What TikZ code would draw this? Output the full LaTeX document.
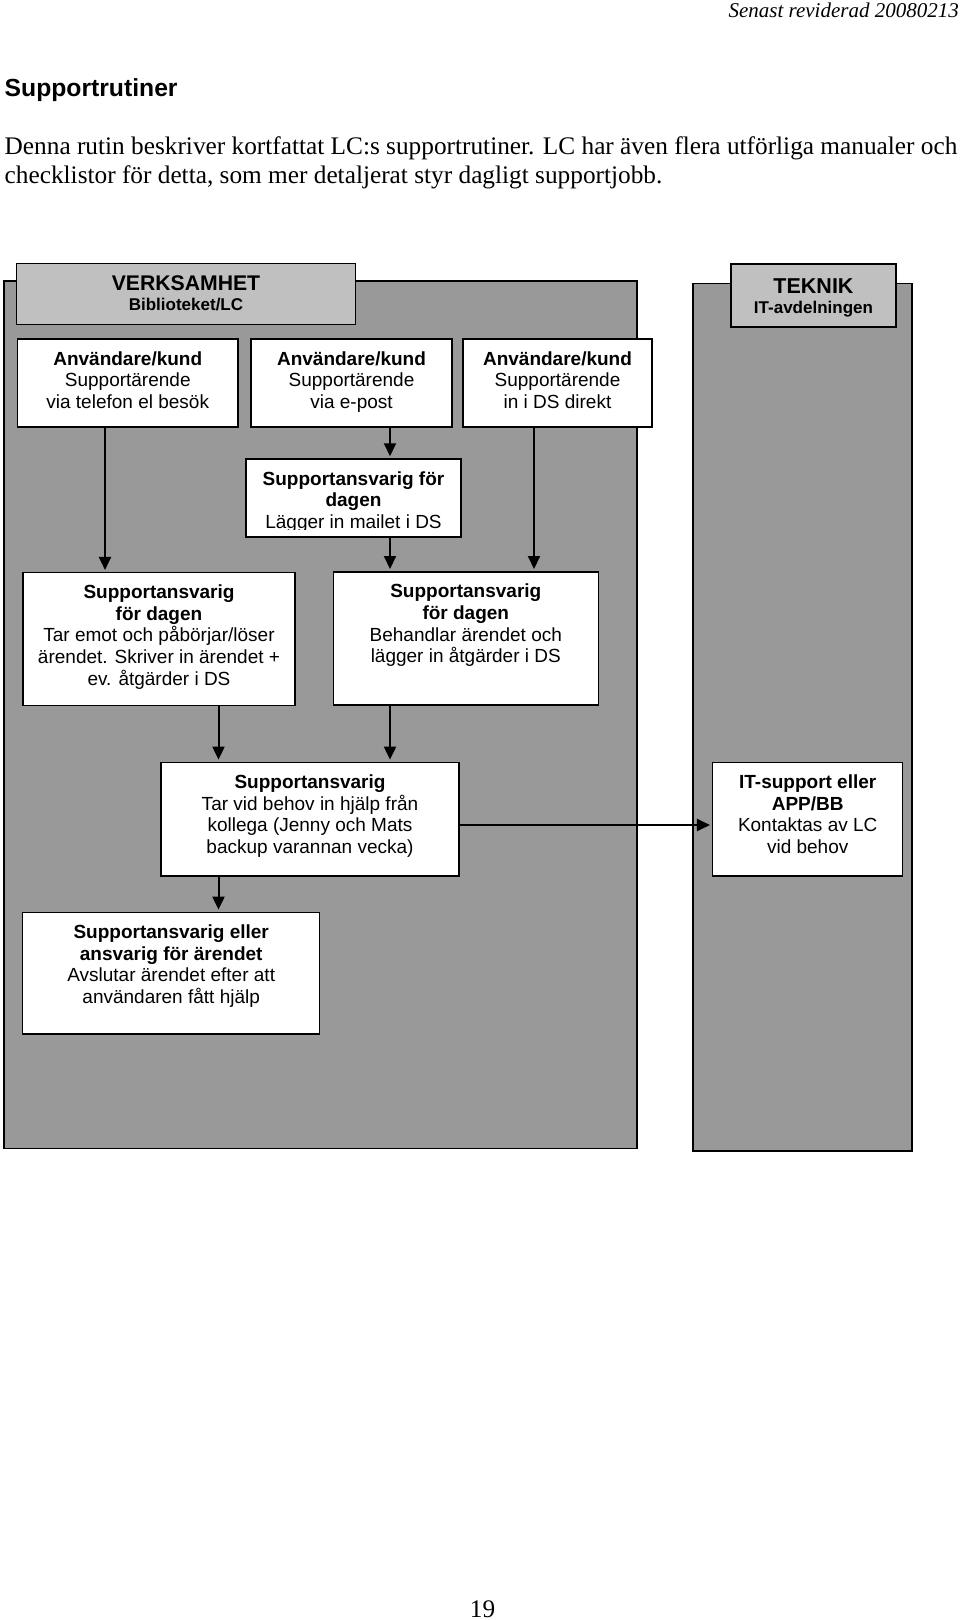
\documentclass[tikz,border=0pt]{standalone}
\usepackage{fontspec}
\setmainfont{Liberation Serif}
\setsansfont{Liberation Sans}
\usetikzlibrary{arrows.meta}
\definecolor{panelgray}{HTML}{999999}
\definecolor{hdrgray}{HTML}{C0C0C0}
% width, height, first baseline, text
\newcommand{\boxtxt}[4]{\parbox[c][#2][t]{#1}{\centering\rule{0pt}{#3}#4}}
\begin{document}
\begin{tikzpicture}[x=1pt,y=-1pt,
	panel/.style={draw=black,line width=1.5pt,fill=panelgray},
	hdr/.style={draw,line width=1.5pt,fill=hdrgray,inner sep=0pt,font=\sffamily\bfseries\fontsize{17}{19.4}\selectfont},
	box/.style={draw,line width=1.5pt,fill=white,inner sep=0pt,font=\sffamily\fontsize{19}{21.7}\selectfont},
	arr/.style={line width=2pt,shorten >=2pt,-{Triangle[length=13pt,width=12pt]}}]
	\useasboundingbox (0,0) rectangle (960,1620);
	\node[anchor=base east,inner sep=0pt,font=\itshape\fontsize{21}{21}\selectfont] (rev) at (959,17) {Senast reviderad 20080213};
	\node[anchor=base west,inner sep=0pt,font=\sffamily\bfseries\fontsize{24.7}{24.7}\selectfont] (title) at (4.5,96.5) {Supportrutiner};
	\node[anchor=base west,inner sep=0pt,font=\fontsize{25.3}{29}\selectfont] (intro1) at (4.5,154.5) {Denna rutin beskriver kortfattat LC:s supportrutiner. LC har även flera utförliga manualer och};
	\node[anchor=base west,inner sep=0pt,font=\fontsize{25.3}{29}\selectfont] (intro2) at (4.5,183.5) {checklistor för detta, som mer detaljerat styr dagligt supportjobb.};
	% the two panels
	\draw[panel] (4,281) rectangle (637,1148.5);
	\draw[panel] (693,283.5) rectangle (912,1151);
	\node[hdr] (verk) at (186,294) {\boxtxt{339pt}{61pt}{27.2pt}{{\fontsize{21.2}{21.2}\selectfont VERKSAMHET}\\Biblioteket/LC}};
	\node[hdr] (tek) at (813.5,295.5) {\boxtxt{165pt}{63pt}{29pt}{{\fontsize{21.5}{21.5}\selectfont TEKNIK}\\[0.6pt]IT-avdelningen}};
	% users
	\node[box] (tel) at (127.75,383) {\boxtxt{220.5pt}{88pt}{26pt}{\textbf{Användare/kund}\\Supportärende\\via telefon el besök}};
	\node[box] (epost) at (351.5,383) {\boxtxt{201pt}{88pt}{26pt}{\textbf{Användare/kund}\\Supportärende\\via e-post}};
	\node[box] (ds) at (557.5,383) {\boxtxt{189pt}{88pt}{26pt}{\textbf{Användare/kund}\\Supportärende\\in i DS direkt}};
	% mail box, text cut at the bottom
	\draw[line width=1.5pt,fill=white] (246,459) rectangle (461,537);
	\begin{scope}
		\clip (246,459) rectangle (461,529.5);
		\node[box,draw=none,fill=none] (mail) at (353.5,498) {\boxtxt{215pt}{78pt}{26pt}{\textbf{Supportansvarig för dagen}\\Lägger in mailet i DS}};
	\end{scope}
	\node[box] (tar) at (159,639.2) {\boxtxt{272pt}{133pt}{25.8pt}{\textbf{Supportansvarig}\\\textbf{för dagen}\\Tar emot och påbörjar/löser\\ärendet. Skriver in ärendet +\\ev. åtgärder i DS}};
	\node[box] (beh) at (465.8,638.4) {\boxtxt{265pt}{133.3pt}{26pt}{\textbf{Supportansvarig}\\\textbf{för dagen}\\Behandlar ärendet och\\lägger in åtgärder i DS}};
	\node[box] (hjalp) at (310,819.2) {\boxtxt{298pt}{113.7pt}{26pt}{\textbf{Supportansvarig}\\Tar vid behov in hjälp från\\kollega (Jenny och Mats\\backup varannan vecka)}};
	\node[box] (it) at (807.7,819.2) {\boxtxt{190pt}{113.7pt}{26pt}{\textbf{IT-support eller}\\\textbf{APP/BB}\\Kontaktas av LC\\vid behov}};
	\node[box] (slut) at (171.2,973.2) {\boxtxt{297pt}{121.7pt}{26pt}{\textbf{Supportansvarig eller}\\\textbf{ansvarig för ärendet}\\Avslutar ärendet efter att\\användaren fått hjälp}};
	% arrow columns
	\coordinate (c1) at (105,0);
	\coordinate (c2) at (390,0);
	\coordinate (c3) at (534,0);
	\coordinate (c4) at (218.5,0);
	\coordinate (h) at (0,825);
	\draw[arr] (tel.south -| c1) -- (tar.north -| c1);
	\draw[arr] (epost.south -| c2) -- (mail.north -| c2);
	\draw[arr] (mail.south -| c2) -- (beh.north -| c2);
	\draw[arr] (ds.south -| c3) -- (beh.north -| c3);
	\draw[arr] (tar.south -| c4) -- (hjalp.north -| c4);
	\draw[arr] (beh.south -| c2) -- (hjalp.north -| c2);
	\draw[arr] (hjalp.south -| c4) -- (slut.north -| c4);
	\draw[arr] (hjalp.east |- h) -- (it.west |- h);
	\node[anchor=base,inner sep=0pt,font=\fontsize{25.3}{25.3}\selectfont] (pnum) at (482.6,1617) {19};
\end{tikzpicture}
\end{document}
